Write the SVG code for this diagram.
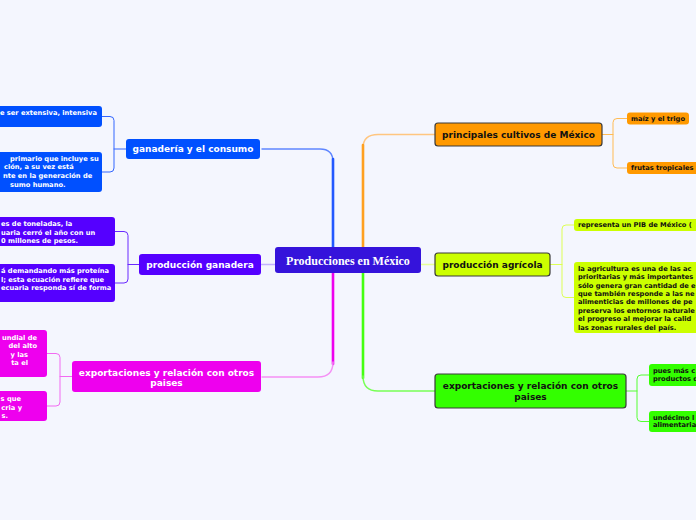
<svg xmlns="http://www.w3.org/2000/svg" width="696" height="520" viewBox="0 0 696 520">
<style>
.bg{fill:#F4F6FE}
.t{font-family:"DejaVu Sans",Verdana,sans-serif;font-weight:bold}
.main{font-size:9px;text-anchor:middle}
.sub{font-size:6.7px}
.w{fill:#ffffff}
.k{fill:#111111}
.bd{stroke:#3a3a3a;stroke-width:1.2}
.ln{fill:none;stroke-linecap:round;stroke-linejoin:round}
</style>
<rect class="bg" x="0" y="0" width="696" height="520"/>
<g id="connectors">
<path class="ln" d="M262,149 H320 Q333,149 333,162" stroke="#5f86ff" stroke-width="1.4"/>
<path class="ln" d="M333,159 V247" stroke="#2258ff" stroke-width="2.6"/>
<path class="ln" d="M435,134.5 H378 Q363,134.5 363,148" stroke="#ffc680" stroke-width="1.4"/>
<path class="ln" d="M363,145 V247" stroke="#ffa020" stroke-width="2.6"/>
<path class="ln" d="M333,273 V364" stroke="#ee00ee" stroke-width="2.6"/>
<path class="ln" d="M333,362 Q333,377 318,377 H262" stroke="#f590f5" stroke-width="1.4"/>
<path class="ln" d="M363,273 V378" stroke="#44ff11" stroke-width="2.6"/>
<path class="ln" d="M363,376 Q363,391 378,391 H435" stroke="#77ff55" stroke-width="1.4"/>
<path class="ln" d="M261,264.5 H275" stroke="#c2b2ff" stroke-width="1.6"/>
<path class="ln" d="M421,264.5 H435" stroke="#e6ff99" stroke-width="1.6"/>
<path class="ln" d="M126,149 H114 M102,116.5 H110 Q114,116.5 114,120.5 V168 Q114,172 110,172 H102" stroke="#3366ff" stroke-width="1"/>
<path class="ln" d="M139,264.5 H128 M115,231.5 H124 Q128,231.5 128,235.5 V279 Q128,283 124,283 H115" stroke="#6a2aff" stroke-width="1"/>
<path class="ln" d="M72,376.5 H60 M47,353.5 H56 Q60,353.5 60,357.5 V402 Q60,406 56,406 H47" stroke="#f26af2" stroke-width="1"/>
<path class="ln" d="M602,134.5 H613 M627,118.5 H617 Q613,118.5 613,122.5 V164 Q613,168 617,168 H627" stroke="#ffbb55" stroke-width="1"/>
<path class="ln" d="M550,264.5 H562 M574,225 H566 Q562,225 562,229 V293.5 Q562,297.5 566,297.5 H574" stroke="#ddff55" stroke-width="1"/>
<path class="ln" d="M626,391 H637 M649,375 H641 Q637,375 637,379 V417.5 Q637,421.5 641,421.5 H649" stroke="#55ff33" stroke-width="1"/>
</g>
<g id="center">
<rect x="275" y="247" width="146" height="26" rx="3" fill="#3513DB"/>
<text x="348" y="264.5" text-anchor="middle" font-family="'Liberation Serif',serif" font-weight="bold" font-size="12" fill="#ffffff">Producciones en México</text>
</g>
<g id="ganaderia">
<rect x="126" y="139" width="134" height="20" rx="3" fill="#0050FF"/>
<text class="t main w" x="193" y="152.3">ganadería y el consumo</text>
</g>
<g id="ganaderia-1">
<rect x="-10" y="106" width="112" height="21" rx="3" fill="#0050FF"/>
<text class="t sub w" x="97" y="114.5" text-anchor="end">e ser extensiva, intensiva</text>
</g>
<g id="ganaderia-2">
<rect x="-10" y="152" width="112" height="40" rx="3" fill="#0050FF"/>
<text class="t sub w" x="10" y="160.7">primario que incluye su</text>
<text class="t sub w" x="4" y="169.3">ción, a su vez está</text>
<text class="t sub w" x="3" y="178">nte en la generación de</text>
<text class="t sub w" x="10" y="186.7">sumo humano.</text>
</g>
<g id="ganadera">
<rect x="139" y="254" width="122" height="21" rx="3" fill="#5500FF"/>
<text class="t main w" x="200" y="267.8">producción ganadera</text>
</g>
<g id="ganadera-1">
<rect x="-10" y="217" width="125" height="29" rx="3" fill="#5500FF"/>
<text class="t sub w" x="1" y="226.4">es de toneladas, la</text>
<text class="t sub w" x="1" y="234.6">uaria cerró el año con un</text>
<text class="t sub w" x="1" y="242.8">0 millones de pesos.</text>
</g>
<g id="ganadera-2">
<rect x="-10" y="264" width="125" height="38" rx="3" fill="#5500FF"/>
<text class="t sub w" x="1" y="273.4">á demandando más proteína</text>
<text class="t sub w" x="1" y="281.7">l; esta ecuación refiere que</text>
<text class="t sub w" x="1" y="290">ecuaria responda sí de forma</text>
</g>
<g id="export-left">
<rect x="72" y="361" width="189" height="31" rx="3" fill="#EE00EE"/>
<text class="t main w" x="166.5" y="375.6">exportaciones y relación con otros</text>
<text class="t main w" x="166.5" y="386.3">paises</text>
</g>
<g id="export-left-1">
<rect x="-10" y="330" width="57" height="47" rx="3" fill="#EE00EE"/>
<text class="t sub w" x="37" y="339.7" text-anchor="end">undial de</text>
<text class="t sub w" x="37" y="348.1" text-anchor="end">del alto</text>
<text class="t sub w" x="28" y="356.7" text-anchor="end">y las</text>
<text class="t sub w" x="28" y="365.1" text-anchor="end">ta el</text>
</g>
<g id="export-left-2">
<rect x="-10" y="391" width="57" height="30" rx="3" fill="#EE00EE"/>
<text class="t sub w" x="21" y="401.4" text-anchor="end">s que</text>
<text class="t sub w" x="22" y="409.7" text-anchor="end">cria y</text>
<text class="t sub w" x="8" y="418.1" text-anchor="end">s.</text>
</g>
<g id="cultivos">
<rect class="bd" x="435" y="123" width="167" height="23" rx="3" fill="#FF9900"/>
<text class="t main k" x="518.5" y="137.8">principales cultivos de México</text>
</g>
<g id="cultivos-1">
<rect x="627" y="112.5" width="62" height="12" rx="3" fill="#FF9900"/>
<text class="t sub k" x="631" y="120.9">maíz y el trigo</text>
</g>
<g id="cultivos-2">
<rect x="627" y="162" width="80" height="12" rx="3" fill="#FF9900"/>
<text class="t sub k" x="631" y="170.4">frutas tropicales</text>
</g>
<g id="agricola">
<rect class="bd" x="435" y="253" width="115" height="23" rx="3" fill="#CCFF00"/>
<text class="t main k" x="492.5" y="267.8">producción agrícola</text>
</g>
<g id="agricola-1">
<rect x="574" y="219" width="130" height="12" rx="3" fill="#CCFF00"/>
<text class="t sub k" x="578" y="227.4">representa un PIB de México (</text>
</g>
<g id="agricola-2">
<rect x="574" y="262" width="130" height="71" rx="3" fill="#CCFF00"/>
<text class="t sub k" x="578" y="270.7">la agricultura es una de las ac</text>
<text class="t sub k" x="578" y="279.1">prioritarias y más importantes</text>
<text class="t sub k" x="578" y="287.6">sólo genera gran cantidad de e</text>
<text class="t sub k" x="578" y="296">que también responde a las ne</text>
<text class="t sub k" x="578" y="304.4">alimenticias de millones de pe</text>
<text class="t sub k" x="578" y="312.9">preserva los entornos naturale</text>
<text class="t sub k" x="578" y="321.3">el progreso al mejorar la calid</text>
<text class="t sub k" x="578" y="329.7">las zonas rurales del país.</text>
</g>
<g id="export-right">
<rect class="bd" x="435" y="374" width="191" height="34" rx="3" fill="#33FF00"/>
<text class="t main k" x="530.5" y="389.3">exportaciones y relación con otros</text>
<text class="t main k" x="530.5" y="400.3">paises</text>
</g>
<g id="export-right-1">
<rect x="649" y="364" width="60" height="22" rx="3" fill="#33FF00"/>
<text class="t sub k" x="653" y="373.4">pues más c</text>
<text class="t sub k" x="653" y="381.4">productos d</text>
</g>
<g id="export-right-2">
<rect x="649" y="411" width="60" height="21" rx="3" fill="#33FF00"/>
<text class="t sub k" x="653" y="420">undécimo l</text>
<text class="t sub k" x="653" y="427.4">alimentaria</text>
</g>
</svg>
